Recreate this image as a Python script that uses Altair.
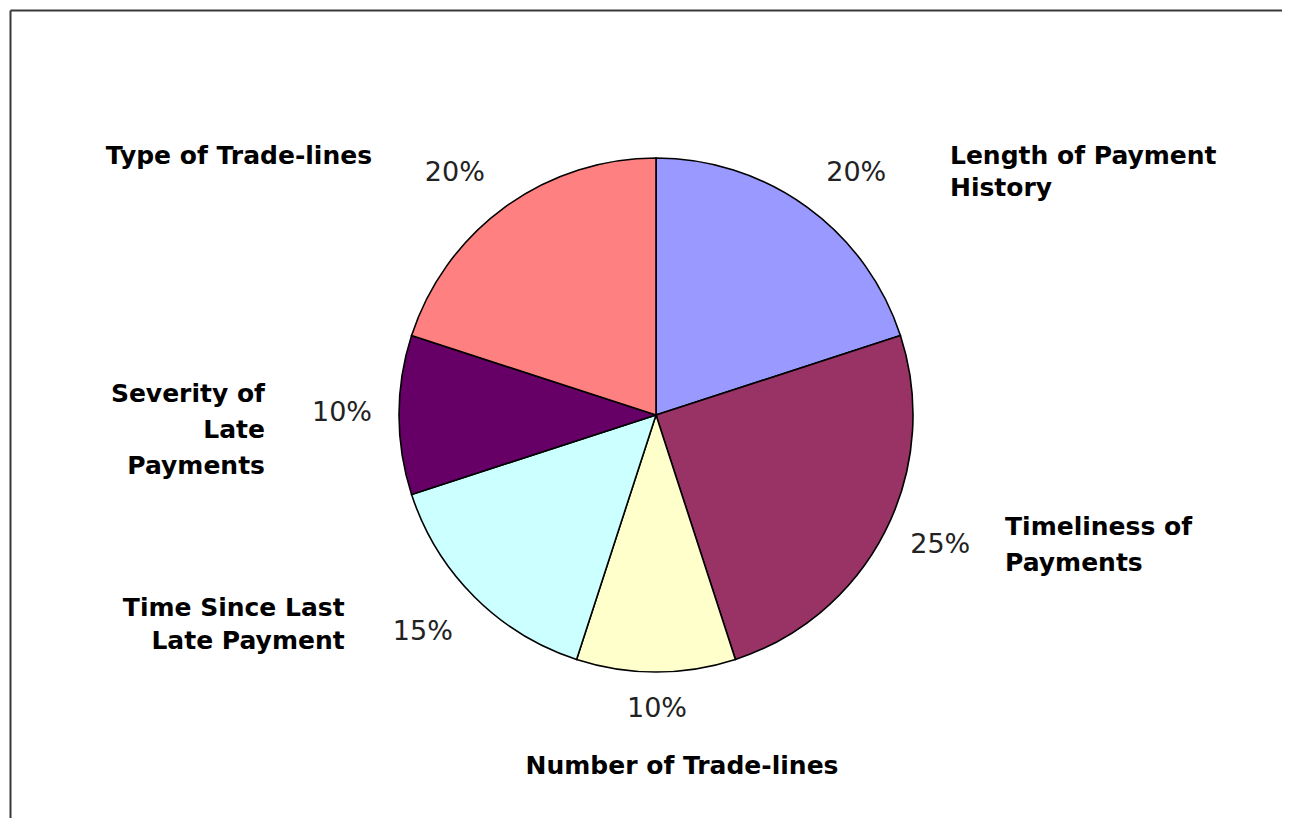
import math
import altair as alt
import pandas as pd

# ---- data ----
categories = [
    "Length of Payment History",
    "Timeliness of Payments",
    "Number of Trade-lines",
    "Time Since Last Late Payment",
    "Severity of Late Payments",
    "Type of Trade-lines",
]
label_lines = [
    ["Length of Payment", "History"],
    ["Timeliness of", "Payments"],
    ["Number of Trade-lines"],
    ["Time Since Last", "Late Payment"],
    ["Severity of", "Late", "Payments"],
    ["Type of Trade-lines"],
]
values = [20, 25, 10, 15, 10, 20]
colors = ["#9999FF", "#993366", "#FFFFCC", "#CCFFFF", "#660066", "#FF8080"]

df = pd.DataFrame({
    "cat": categories,
    "label": ["\n".join(l) for l in label_lines],
    "value": values,
    "idx": list(range(len(categories))),
    "pct": [f"{v}%" for v in values],
})

# ---- styles (offsets of labels from their slice's mid-angle point) ----
cat_style = [
    dict(align="left", dx=100, dy=8, lh=32),
    dict(align="left", dx=55, dy=-38, lh=36),
    dict(align="center", dx=26, dy=21, lh=34),
    dict(align="right", dx=-78, dy=-40, lh=33),
    dict(align="right", dx=-61, dy=-21, lh=36),
    dict(align="right", dx=-90, dy=8, lh=34),
]
pct_style = [
    dict(dx=18, dy=9),
    dict(dx=8, dy=-11),
    dict(dx=1, dy=-16),
    dict(dx=-14, dy=-2),
    dict(dx=-4, dy=-2),
    dict(dx=-19, dy=9),
]

theta_scale = alt.Scale(domain=[0, 100], range=[0, 2 * math.pi])

base = (
    alt.Chart(df)
    .transform_window(cum="sum(value)", sort=[alt.SortField("idx")])
    .transform_calculate(start="datum.cum - datum.value",
                         mid="datum.cum - datum.value / 2")
)

arcs = base.mark_arc(radius=257, stroke="#000000", strokeWidth=1.6).encode(
    theta=alt.Theta("start:Q", scale=theta_scale),
    theta2=alt.Theta2("cum:Q"),
    color=alt.Color("cat:N", scale=alt.Scale(domain=categories, range=colors), legend=None),
)

layers = [arcs]
for i in range(len(categories)):
    cs = cat_style[i]
    layers.append(
        base.transform_filter(f"datum.idx == {i}")
        .mark_text(
            radius=330, align=cs["align"], baseline="middle", dx=cs["dx"], dy=cs["dy"],
            font="DejaVu Sans", fontSize=25, fontWeight="bold", color="#000000",
            lineBreak="\n", lineHeight=cs["lh"],
        )
        .encode(theta=alt.Theta("mid:Q", scale=theta_scale), text="label:N")
    )
    ps = pct_style[i]
    layers.append(
        base.transform_filter(f"datum.idx == {i}")
        .mark_text(
            radius=310, align="center", baseline="middle", dx=ps["dx"], dy=ps["dy"],
            font="DejaVu Sans", fontSize=27, color="#222222",
        )
        .encode(theta=alt.Theta("mid:Q", scale=theta_scale), text="pct:N")
    )

# chart-area frame (left and top edges visible)
frame_df = pd.DataFrame({"a": [0]})
frame_top = alt.Chart(frame_df).mark_rule(color="#383838", strokeWidth=2).encode(
    x=alt.value(-19.5), x2=alt.value(1300), y=alt.value(-1.5)
)
frame_left = alt.Chart(frame_df).mark_rule(color="#383838", strokeWidth=2).encode(
    x=alt.value(-19.5), y=alt.value(-1.5), y2=alt.value(820)
)

chart = (
    alt.layer(*layers, frame_top, frame_left)
    .properties(
        width=1252, height=806,
        padding={"left": 22, "top": 4, "right": 0, "bottom": 0},
        autosize="none",
        background="#ffffff",
    )
    .configure_view(strokeWidth=0)
)

chart.save("out.html", embed_options={"renderer": "svg", "actions": False})
